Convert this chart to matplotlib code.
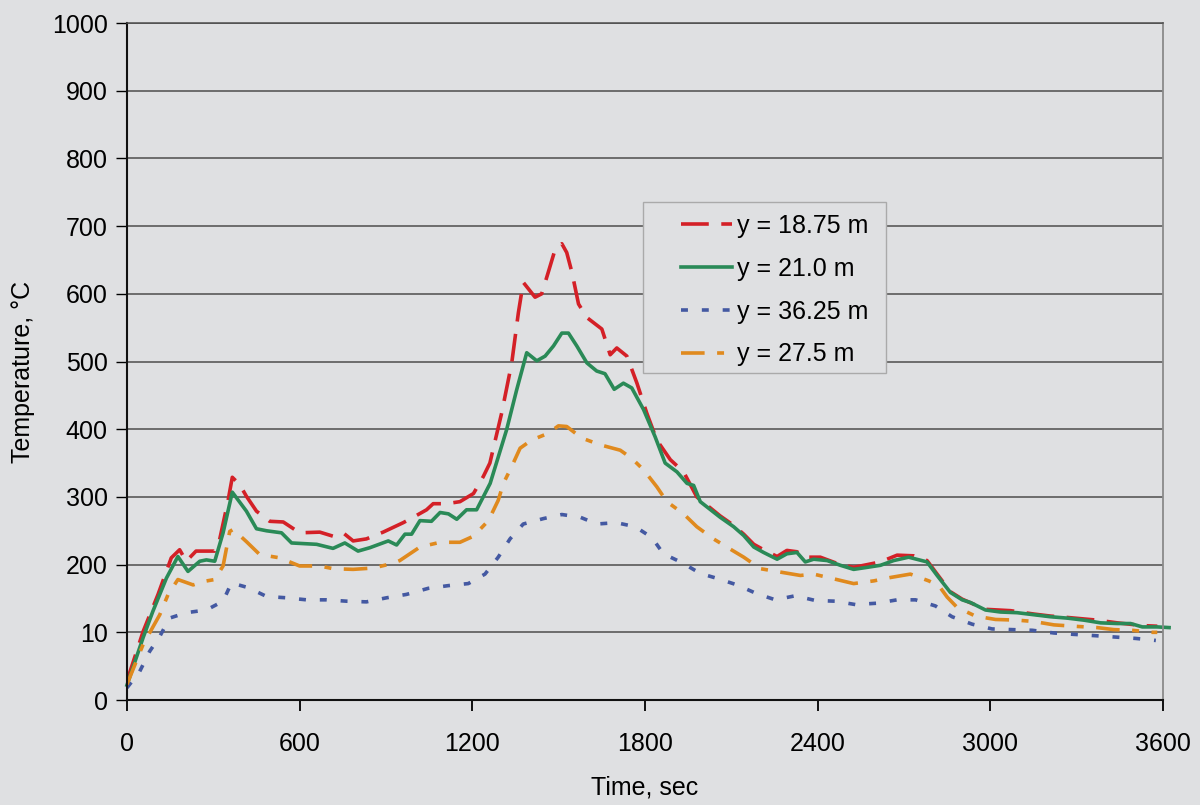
import matplotlib
matplotlib.use('Agg')
import matplotlib.pyplot as plt
from matplotlib.patches import Rectangle

# Data (time in s, temperature in degC)
red_t = [0, 56, 108, 154, 183, 206, 240, 270, 305, 322, 351, 366, 392, 415, 450, 496, 543,
         600, 670, 716, 751, 786, 832, 890, 960, 995, 1041, 1064, 1111, 1157, 1204, 1238,
         1261, 1302, 1337, 1360, 1377, 1418, 1441, 1464, 1488, 1511, 1528, 1546, 1569, 1598,
         1650, 1679, 1702, 1737, 1772, 1806, 1841, 1888, 1934, 1980, 2061, 2108, 2143, 2178,
         2212, 2259, 2293, 2328, 2357, 2409, 2479, 2525, 2572, 2618, 2676, 2734, 2780, 2815,
         2861, 2902, 2983, 3070, 3151, 3209, 3267, 3371, 3441, 3528, 3580]
red_T = [28, 101, 156, 210, 222, 205, 220, 220, 220, 237, 294, 329, 318, 301, 279, 264, 263,
         247, 248, 242, 247, 235, 238, 248, 262, 270, 281, 290, 290, 293, 305, 330,
         350, 424, 498, 572, 617, 595, 600, 632, 666, 674, 661, 632, 585, 565,
         548, 510, 520, 508, 468, 424, 384, 355, 337, 300, 272, 258, 245, 230,
         222, 212, 221, 219, 211, 211, 200, 196, 200, 204, 214, 213, 206, 186,
         160, 149, 134, 132, 127, 124, 122, 118, 114, 110, 109]

green_t = [0, 56, 90, 137, 177, 212, 253, 276, 305, 334, 366, 415, 450, 485, 537, 572, 659,
           716, 757, 803, 844, 908, 937, 966, 989, 1018, 1058, 1088, 1117, 1146, 1180, 1215,
           1262, 1319, 1354, 1389, 1424, 1453, 1482, 1511, 1534, 1563, 1598, 1632, 1661, 1693,
           1725, 1754, 1795, 1835, 1870, 1911, 1946, 1969, 1992, 2061, 2108, 2143, 2178, 2212,
           2259, 2293, 2328, 2357, 2386, 2433, 2479, 2525, 2572, 2618, 2664, 2716, 2780, 2815,
           2861, 2902, 2931, 2983, 3035, 3093, 3151, 3209, 3267, 3325, 3383, 3441, 3487, 3528,
           3580, 3621]
green_T = [22, 92, 131, 180, 212, 190, 205, 207, 205, 247, 307, 279, 253, 250, 247, 232, 230,
           224, 232, 220, 225, 235, 229, 245, 245, 265, 264, 277, 275, 267, 281, 281,
           320, 399, 458, 513, 501, 508, 523, 542, 542, 523, 498, 486, 482, 459,
           468, 461, 429, 389, 350, 337, 320, 317, 293, 270, 256, 243, 226, 218,
           208, 216, 218, 204, 208, 206, 199, 193, 196, 199, 206, 211, 204, 184,
           159, 148, 144, 133, 130, 129, 126, 123, 121, 118, 114, 113, 113, 108,
           108, 107]

blue_t = [0, 44, 79, 114, 148, 206, 276, 334, 363, 421, 485, 554, 624, 693, 763, 832, 902,
          971, 1047, 1117, 1186, 1244, 1290, 1331, 1377, 1447, 1511, 1575, 1633, 1700, 1766,
          1824, 1864, 1928, 1992, 2056, 2120, 2189, 2253, 2322, 2392, 2462, 2531, 2606, 2676,
          2740, 2809, 2867, 2937, 3006, 3076, 3146, 3221, 3290, 3366, 3435, 3505, 3575]
blue_T = [18, 42, 72, 94, 121, 129, 133, 146, 173, 166, 153, 151, 148, 148, 146, 145, 151,
          156, 165, 169, 172, 186, 211, 238, 260, 268, 274, 270, 260, 262, 256,
          240, 216, 203, 187, 179, 170, 157, 148, 154, 147, 146, 141, 143, 148,
          148, 139, 123, 112, 105, 104, 103, 99, 97, 95, 93, 91, 88]

orange_t = [0, 56, 114, 143, 177, 230, 264, 305, 334, 357, 369, 415, 461, 531, 600, 670, 716,
            786, 856, 925, 948, 1018, 1088, 1157, 1204, 1256, 1290, 1308, 1337, 1366, 1406,
            1464, 1499, 1528, 1580, 1644, 1714, 1754, 1795, 1841, 1876, 1934, 1980, 2038, 2096,
            2143, 2201, 2270, 2340, 2386, 2456, 2525, 2595, 2653, 2722, 2786, 2821, 2850, 2884,
            2948, 3018, 3093, 3151, 3221, 3290, 3371, 3429, 3493, 3563, 3580]
orange_T = [23, 82, 126, 156, 178, 170, 175, 178, 198, 249, 252, 234, 215, 210, 198, 198, 194,
            193, 195, 202, 206, 226, 233, 233, 242, 265, 295, 320, 345, 372, 384,
            394, 405, 404, 387, 377, 369, 357, 340, 315, 293, 275, 256, 238, 223,
            211, 194, 189, 184, 186, 179, 172, 176, 181, 186, 176, 169, 152, 137,
            124, 119, 118, 116, 111, 109, 107, 104, 103, 100, 100]

labels = ['y = 18.75 m', 'y = 21.0 m', 'y = 36.25 m', 'y = 27.5 m']
x_ticks = [0, 600, 1200, 1800, 2400, 3000, 3600]
y_ticks = [0, 100, 200, 300, 400, 500, 600, 700, 800, 900, 1000]
y_tick_labels = ['0', '10', '200', '300', '400', '500', '600', '700', '800', '900', '1000']

bg = '#dfe0e2'
plt.rcParams['font.family'] = ['Liberation Sans', 'DejaVu Sans']
plt.rcParams['lines.scale_dashes'] = False

fig = plt.figure(figsize=(12, 8.05), dpi=100, facecolor=bg)
ax = fig.add_axes([0.1058, 0.1304, 0.8634, 0.8410])
ax.set_facecolor(bg)

ax.plot(red_t, red_T, color='#d42027', lw=2.6, linestyle=(0, (20, 9)), label=labels[0])
ax.plot(green_t, green_T, color='#2a8a57', lw=2.6, label=labels[1], clip_on=False)
ax.plot(blue_t, blue_T, color='#4459a2', lw=2.6, linestyle=(0, (5, 10)), label=labels[2])
ax.plot(orange_t, orange_T, color='#e08a1e', lw=2.6, linestyle=(0, (17, 9, 5, 9)), label=labels[3])

ax.set_xlim(0, 3600)
ax.set_ylim(0, 1000)
ax.set_xticks(x_ticks)
ax.set_yticks(y_ticks)
ax.set_yticklabels(y_tick_labels)
ax.grid(axis='y', color='#4d4d4d', lw=1.1)
ax.set_axisbelow(True)
ax.tick_params(axis='x', direction='out', length=8, width=1.3, pad=15, labelsize=18)
ax.tick_params(axis='y', direction='out', length=8, width=1.0, pad=6, labelsize=18)

for side in ['left', 'bottom']:
    ax.spines[side].set_color('#111111')
    ax.spines[side].set_linewidth(1.5)
ax.spines['top'].set_color('#4d4d4d')
ax.spines['top'].set_linewidth(1.1)
ax.spines['right'].set_color('#8a8a8a')
ax.spines['right'].set_linewidth(1.3)

ax.set_xlabel('Time, sec', fontsize=18)
ax.set_ylabel('Temperature, °C', fontsize=18)
ax.xaxis.set_label_coords(0.5, -0.112)
ax.yaxis.set_label_coords(-0.0888, 0.484)

# legend box drawn separately (the original has a wide left margin)
box = Rectangle((0.498, 0.483), 0.2346, 0.2526, transform=ax.transAxes,
                facecolor=bg, edgecolor='#aaaaaa', lw=1.0, zorder=4)
ax.add_patch(box)
leg = ax.legend(loc='upper left', bbox_to_anchor=(0.5347, 0.7179), fontsize=18,
                frameon=False, handlelength=2.05, handletextpad=0.2, labelspacing=0.75,
                borderpad=0, borderaxespad=0)
leg.set_zorder(5)

fig.savefig('out.png', dpi=100, facecolor=bg)
